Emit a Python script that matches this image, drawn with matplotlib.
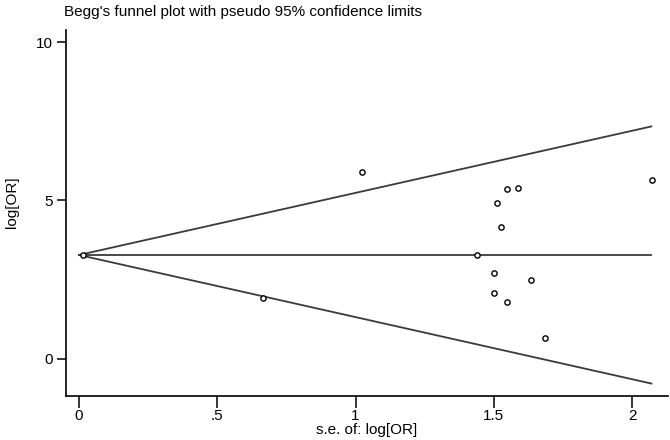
import numpy as np
import matplotlib.pyplot as plt

# study standard errors and log odds ratios
se = [0.015, 0.665, 1.025, 1.512, 1.547, 1.588, 2.073, 1.526, 1.438, 1.50, 1.634, 1.50, 1.546, 1.685]
logor = [3.28, 1.92, 5.90, 4.91, 5.35, 5.38, 5.65, 4.17, 3.28, 2.70, 2.49, 2.07, 1.81, 0.66]

pooled = 3.28
se_max = 2.07

xticks = [0, 0.5, 1, 1.5, 2]
xticklabels = ['0', '.5', '1', '1.5', '2']
yticks = [0, 5, 10]

plt.rcParams['font.family'] = ['Liberation Sans', 'DejaVu Sans']

fig = plt.figure(figsize=(6.7, 4.4), dpi=100)
ax = fig.add_axes([66/670, 1-396/440, (668-66)/670, (396-30)/440])

s = np.array([0, se_max])
ax.plot(s, [pooled, pooled], color='#3a3a3a', lw=1.3)
ax.plot(s, pooled + 1.96*s, color='#3a3a3a', lw=1.3)
ax.plot(s, pooled - 1.96*s, color='#3a3a3a', lw=1.3)
ax.plot(se, logor, 'o', mfc='white', mec='black', ms=3.8, mew=1.0, ls='none')

ax.set_xlim(-0.047, 2.13)
ax.set_ylim(-1.17, 10.38)
ax.set_xticks(xticks)
ax.set_xticklabels(xticklabels)
ax.set_yticks(yticks)
ax.spines['top'].set_visible(False)
ax.spines['right'].set_visible(False)
for sp in ax.spines.values():
    sp.set_linewidth(1.2)
ax.tick_params(axis='x', length=8.5, width=1.1, labelsize=11, pad=1)
ax.tick_params(axis='y', length=6.5, width=1.1, labelsize=11, pad=3)
ax.set_xlabel('s.e. of: log[OR]', fontsize=11, labelpad=0)

fig.text(12/670, 1-202/440, 'log[OR]', rotation=90, ha='center', va='center', fontsize=11)
fig.text(64/670, 1-12/440, "Begg's funnel plot with pseudo 95% confidence limits",
         ha='left', va='center', fontsize=11)

fig.savefig('out.png', dpi=100)
